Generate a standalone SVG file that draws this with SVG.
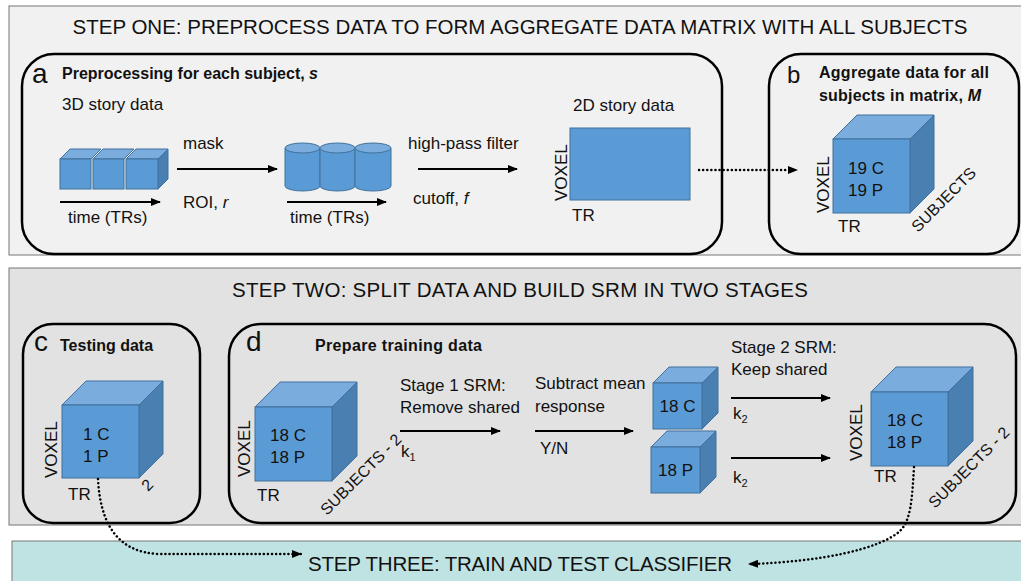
<svg xmlns="http://www.w3.org/2000/svg" width="1021" height="581" viewBox="0 0 1021 581">
<style>
text{font-family:"Liberation Sans",Arial,sans-serif;fill:#111}
.t{font-size:17px}
.h{font-size:20.5px}
.b{font-size:16px;font-weight:bold}
.L{font-size:28px}
.panel{fill:none;stroke:#000;stroke-width:2.5}
.front{fill:#5b9bd5;stroke:#41719c;stroke-width:1}
.top{fill:#7aadde;stroke:#41719c;stroke-width:1}
.side{fill:#4a7fb2;stroke:#41719c;stroke-width:1}
.arr{stroke:#000;stroke-width:2;fill:none;marker-end:url(#ah)}
.dot{stroke:#000;stroke-width:2.5;fill:none;stroke-dasharray:0.1 4;stroke-linecap:round;marker-end:url(#ah2)}
</style>
<defs>
<marker id="ah" viewBox="0 0 10 10" refX="9" refY="5" markerWidth="5" markerHeight="5" orient="auto" markerUnits="strokeWidth"><path d="M0,1 L10,5 L0,9 z" fill="#000"/></marker>
<marker id="ah2" viewBox="0 0 10 10" refX="9" refY="5" markerWidth="4" markerHeight="4" orient="auto" markerUnits="strokeWidth"><path d="M0,1 L10,5 L0,9 z" fill="#000"/></marker>
</defs>
<rect width="1021" height="581" fill="#fff"/>

<g id="step-one">
<rect x="9" y="6" width="1020" height="249" fill="#f1f1f1" stroke="#777" stroke-width="1"/>
<text class="h" x="520" y="34" text-anchor="middle" textLength="895">STEP ONE: PREPROCESS DATA TO FORM AGGREGATE DATA MATRIX WITH ALL SUBJECTS</text>
</g>

<g id="panel-a">
<rect class="panel" x="22" y="54" width="700" height="200" rx="32"/>
<text class="L" x="32" y="83">a</text>
<text class="b" x="62" y="79" textLength="256">Preprocessing for each subject, <tspan font-style="italic">s</tspan></text>
<text class="t" x="62" y="110">3D story data</text>
<g id="cubes3d">
<polygon class="top" points="60,159 70,149 101,149 91,159"/>
<rect class="front" x="60" y="159" width="31" height="30"/>
<polygon class="top" points="93,159 103,149 134,149 124,159"/>
<rect class="front" x="93" y="159" width="31" height="30"/>
<polygon class="top" points="126,159 136,149 168,149 158,159"/>
<polygon class="side" points="158,159 168,149 168,179 158,189"/>
<rect class="front" x="126" y="159" width="32" height="30"/>
</g>
<text class="t" x="68" y="223">time (TRs)</text>
<text class="t" x="183" y="149">mask</text>
<text class="t" x="183" y="208">ROI, <tspan font-style="italic">r</tspan></text>
<g id="cylinders" fill="#5b9bd5" stroke="#41719c" stroke-width="1">
<path d="M285,148 L285,186 A17.5,5 0 0 0 320,186 L320,148"/>
<ellipse cx="302.5" cy="148" rx="17.5" ry="5" fill="#7aadde"/>
<path d="M320,148 L320,186 A17.5,5 0 0 0 355,186 L355,148"/>
<ellipse cx="337.5" cy="148" rx="17.5" ry="5" fill="#7aadde"/>
<path d="M355,148 L355,186 A18,5 0 0 0 391,186 L391,148"/>
<ellipse cx="373" cy="148" rx="18" ry="5" fill="#7aadde"/>
</g>
<text class="t" x="290" y="223">time (TRs)</text>
<text class="t" x="408" y="149">high-pass filter</text>
<text class="t" x="413" y="204">cutoff, <tspan font-style="italic">f</tspan></text>
<text class="t" x="573" y="111">2D story data</text>
<rect class="front" x="570" y="128" width="120" height="72" stroke="none"/>
<text class="t" transform="translate(567,201) rotate(-90)">VOXEL</text>
<text class="t" x="572" y="221">TR</text>
</g>

<g id="panel-b">
<rect class="panel" x="769" y="54" width="250" height="200" rx="32"/>
<text style="font-size:24px" x="787" y="83">b</text>
<text class="b" x="819" y="78" textLength="170">Aggregate data for all</text>
<text class="b" x="819" y="101" textLength="162">subjects in matrix, <tspan font-style="italic">M</tspan></text>
<polygon class="top" points="833,139 857,115 934,115 910,139"/>
<polygon class="side" points="910,139 934,115 934,189 910,213"/>
<rect class="front" x="833" y="139" width="77" height="74"/>
<text class="t" x="848" y="174">19 C</text>
<text class="t" x="848" y="196">19 P</text>
<text class="t" transform="translate(829,213) rotate(-90)">VOXEL</text>
<text class="t" x="838" y="232">TR</text>
<text style="font-size:16px" transform="translate(918,233) rotate(-45)">SUBJECTS</text>
</g>

<g id="step-two">
<rect x="9" y="268" width="1020" height="257" fill="#e2e2e2" stroke="#777" stroke-width="1"/>
<text class="h" x="520" y="297" text-anchor="middle" textLength="576">STEP TWO: SPLIT DATA AND BUILD SRM IN TWO STAGES</text>
</g>

<g id="panel-c">
<rect class="panel" x="23" y="324" width="177" height="199" rx="30"/>
<text class="L" x="34" y="351">c</text>
<text class="b" x="60" y="351">Testing data</text>
<polygon class="top" points="62,405 86,381 163,381 139,405"/>
<polygon class="side" points="139,405 163,381 163,454 139,478"/>
<rect class="front" x="62" y="405" width="77" height="73"/>
<text class="t" x="83" y="440">1 C</text>
<text class="t" x="83" y="462">1 P</text>
<text class="t" transform="translate(57,478) rotate(-90)">VOXEL</text>
<text class="t" x="68" y="500">TR</text>
<text style="font-size:16px" transform="translate(148,492) rotate(-45)">2</text>
</g>

<g id="panel-d">
<rect class="panel" x="229" y="324" width="787" height="199" rx="32"/>
<text class="L" x="246" y="351">d</text>
<text class="b" x="315" y="351" textLength="167">Prepare training data</text>
<polygon class="top" points="255,407 280,382 357,382 332,407"/>
<polygon class="side" points="332,407 357,382 357,456 332,481"/>
<rect class="front" x="255" y="407" width="77" height="74"/>
<text class="t" x="270" y="441">18 C</text>
<text class="t" x="270" y="463">18 P</text>
<text class="t" transform="translate(250,477) rotate(-90)">VOXEL</text>
<text class="t" x="257" y="501">TR</text>
<text style="font-size:16px" transform="translate(327,516) rotate(-45)">SUBJECTS - 2</text>

<text class="t" x="400" y="391">Stage 1 SRM:</text>
<text class="t" x="400" y="413">Remove shared</text>
<text class="t" x="401" y="457">k<tspan font-size="11" dy="4">1</tspan></text>
<text class="t" x="535" y="389">Subtract mean</text>
<text class="t" x="535" y="412">response</text>
<text class="t" x="540" y="454">Y/N</text>

<polygon class="top" points="653,383 669,367 718,367 702,383"/>
<polygon class="side" points="702,383 718,367 718,413 702,429"/>
<rect class="front" x="653" y="383" width="49" height="46"/>
<text class="t" x="677.5" y="412" text-anchor="middle">18 C</text>
<polygon class="top" points="651,447 667,431 716,431 700,447"/>
<polygon class="side" points="700,447 716,431 716,477 700,493"/>
<rect class="front" x="651" y="447" width="49" height="46"/>
<text class="t" x="675.5" y="476" text-anchor="middle">18 P</text>

<text class="t" x="731" y="353">Stage 2 SRM:</text>
<text class="t" x="731" y="375">Keep shared</text>
<text class="t" x="733" y="419">k<tspan font-size="11" dy="4">2</tspan></text>
<text class="t" x="733" y="483">k<tspan font-size="11" dy="4">2</tspan></text>

<polygon class="top" points="871,392 896,367 973,367 948,392"/>
<polygon class="side" points="948,392 973,367 973,441 948,466"/>
<rect class="front" x="871" y="392" width="77" height="74"/>
<text class="t" x="887" y="426">18 C</text>
<text class="t" x="887" y="448">18 P</text>
<text class="t" transform="translate(862,461) rotate(-90)">VOXEL</text>
<text class="t" x="874" y="482">TR</text>
<text style="font-size:16px" transform="translate(935,509) rotate(-45)">SUBJECTS - 2</text>
</g>

<g id="step-three">
<rect x="12" y="541" width="1015" height="45" fill="#bfe3e3" stroke="#777" stroke-width="1"/>
<text class="h" x="308" y="571" textLength="424">STEP THREE: TRAIN AND TEST CLASSIFIER</text>
</g>

<g id="connectors">
<line class="arr" x1="60" y1="202" x2="160" y2="202"/>
<line class="arr" x1="177" y1="169" x2="277" y2="169"/>
<line class="arr" x1="287" y1="202" x2="386" y2="202"/>
<line class="arr" x1="418" y1="169" x2="517" y2="169"/>
<line class="dot" x1="699" y1="170" x2="797" y2="170"/>
<line class="arr" x1="400" y1="431" x2="500" y2="431"/>
<line class="arr" x1="535" y1="431" x2="633" y2="431"/>
<line class="arr" x1="731" y1="398" x2="830" y2="398"/>
<line class="arr" x1="731" y1="458" x2="830" y2="458"/>
<path class="dot" d="M98,479 C100,520 115,553 160,554 L301,554"/>
<path class="dot" d="M914,467 C912,500 911,520 900,531 C880,549 820,562 749,564"/>
</g>
</svg>
